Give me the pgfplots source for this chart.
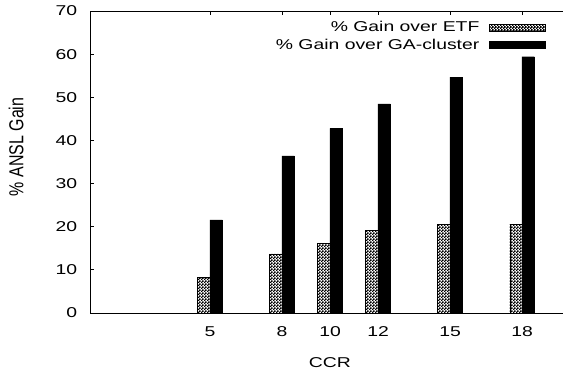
\documentclass[border=0pt]{standalone}
\usepackage{pgfplots}
\pgfplotsset{compat=1.18}
\usetikzlibrary{patterns}
\usepackage{fontspec}
\setmainfont{Liberation Sans}
\usepackage{graphicx}
\newcommand{\hs}[1]{\scalebox{1.36}[1]{#1}}
\newcommand{\lblfont}{\fontsize{14.3}{16}\selectfont}
\pgfdeclarepatternformonly{finecheck}{\pgfpointorigin}{\pgfpoint{2.6bp}{2.6bp}}{\pgfpoint{2.6bp}{2.6bp}}{%
  \pgfpathrectangle{\pgfpointorigin}{\pgfpoint{1.7bp}{1.7bp}}%
  \pgfpathrectangle{\pgfpoint{1.3bp}{1.3bp}}{\pgfpoint{1.7bp}{1.7bp}}%
  \pgfusepath{fill}}
\pgfplotsset{/pgfplots/boxlegend/.style={legend image code/.code={\draw[##1] (0bp,-3.5bp) rectangle (56bp,3.5bp);}}}
\begin{document}
\begin{tikzpicture}
\begin{axis}[
  at={(90bp,57bp)}, anchor=south west,
  scale only axis, width=473bp, height=302bp,
  xmin=0, xmax=19.7, ymin=0, ymax=70,
  axis y line*=left, axis x line*=box,
  axis line style={line width=0.9bp, black},
  xtick={5,8,10,12,15,18}, ytick={0,10,...,70},
  tick align=inside, major tick length=4bp,
  tick style={line width=0.8bp, black},
  font=\lblfont,
  /pgf/number format/assume math mode=true,
  xticklabel style={font=\lblfont, xscale=1.36, yshift=-10bp},
  yticklabel style={font=\lblfont, xscale=1.36, xshift=-6bp},
  xlabel={\hs{CCR}},
  ylabel={\rotatebox{90}{\lblfont\scalebox{1.12}[1.42]{\% ANSL Gain}}},
  xlabel style={font=\lblfont, at={(axis description cs:0.507,-0.163)}, anchor=center},
  every axis y label/.style={at={(axis description cs:-0.156,0.55)}, anchor=center, font=\lblfont},
  legend style={at={(rel axis cs:0.964,0.972)}, anchor=north east, draw=none, fill=none,
    inner sep=0pt, row sep=1.5bp, column sep=8bp, cells={anchor=east},
    font=\lblfont},
  legend plot pos=right,
  legend cell align=right,
]
\addplot[ybar, bar width=0.52, bar shift=-0.26, draw=black, line width=0.4bp,
  pattern=finecheck, pattern color=black, boxlegend]
  coordinates {(5,8.3) (8,13.7) (10,16.1) (12,19.1) (15,20.6) (18,20.6)};
\addlegendentry{\hs{\% Gain over ETF}}
\addplot[ybar, bar width=0.52, bar shift=0.25, draw=black, line width=0.4bp,
  fill=black, boxlegend]
  coordinates {(5,21.6) (8,36.4) (10,42.8) (12,48.5) (15,54.7) (18,59.4)};
\addlegendentry{\hs{\% Gain over GA-cluster}}
\end{axis}
\pgfresetboundingbox
\path (0,0) rectangle (563bp,370bp);
\end{tikzpicture}
\end{document}
